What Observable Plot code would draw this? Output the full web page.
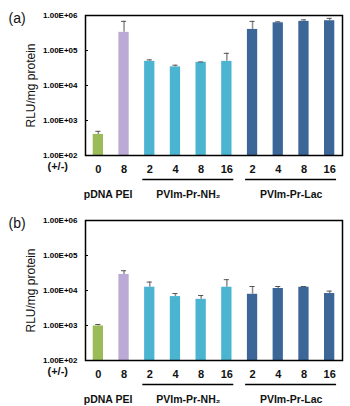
<!DOCTYPE html>
<html>
<head>
<meta charset="utf-8">
<script src="https://cdn.jsdelivr.net/npm/d3@7"></script>
<script src="https://cdn.jsdelivr.net/npm/@observablehq/plot@0.6"></script>
<style>
  body { margin: 0; background: #fff; font-family: "Liberation Sans", Arial, sans-serif; }
  #chart svg { display: block; }
</style>
</head>
<body>
<div id="chart"></div>
<script>
// ---- data ----
const ratios = ["0", "8", "2", "4", "8", "16", "2", "4", "8", "16"];
const groupOf = ["pDNA", "PEI", "NH2", "NH2", "NH2", "NH2", "Lac", "Lac", "Lac", "Lac"];
const valuesA = [400, 3.3e5, 4.9e4, 3.4e4, 4.6e4, 4.9e4, 4.0e5, 6.2e5, 6.8e5, 7.1e5];
const errorsA = [90, 3.5e5, 5e3, 4e3, 1e3, 3.4e4, 2.8e5, 4e4, 7e4, 1.2e5];
const valuesB = [970, 2.87e4, 1.24e4, 6.7e3, 5.6e3, 1.24e4, 7.8e3, 1.14e4, 1.24e4, 8.2e3];
const errorsB = [100, 8e3, 5e3, 1.5e3, 1.6e3, 8e3, 5.2e3, 1.6e3, 600, 1.4e3];
const yTicks = [1e2, 1e3, 1e4, 1e5, 1e6];
const groups = [
  {label: "pDNA", start: 0, end: 0, line: false},
  {label: "PEI", start: 1, end: 1, line: false},
  {label: "PVIm-Pr-NH\u2082", start: 2, end: 5, line: true},
  {label: "PVIm-Pr-Lac", start: 6, end: 9, line: true}
];
const colors = {pDNA: "#9bbb59", PEI: "#bcaad6", NH2: "#4bb4d0", Lac: "#3d6698"};
const yLabel = "RLU/mg protein";
const xLabel = "(+/-)";

function fmt(v) {
  const e = Math.round(Math.log10(v));
  return (v / 10 ** e).toFixed(2) + "E+" + String(e).padStart(2, "0");
}

function panel(tag, values, errors, marginTop) {
  const rows = values.map((v, i) => ({i, v, e: errors[i], g: groupOf[i], r: ratios[i]}));
  return Plot.plot({
    width: 350,
    height: marginTop + 140 + 46,
    marginLeft: 85,
    marginRight: 8,
    marginTop,
    marginBottom: 46,
    style: {fontFamily: "'Liberation Sans', Arial, sans-serif", overflow: "visible"},
    x: {type: "linear", domain: [-0.5, 9.5], axis: null},
    y: {type: "log", domain: [1e2, 1e6], axis: null},
    marks: [
      Plot.axisY({ticks: yTicks, tickFormat: fmt, tickSize: -3, tickPadding: 11,
        fontSize: 8, fontWeight: "bold", label: null, stroke: "black"}),
      Plot.rectY(rows, {x1: d => d.i - 0.2, x2: d => d.i + 0.2, y1: 100, y2: "v",
        fill: d => colors[d.g]}),
      Plot.ruleX(rows, {x: "i", y1: "v", y2: d => d.v + d.e, stroke: "#8c8c8c", strokeWidth: 1.5}),
      Plot.ruleY(rows, {y: d => d.v + d.e, x1: d => d.i - 0.1, x2: d => d.i + 0.1,
        stroke: "#555", strokeWidth: 1}),
      Plot.frame({stroke: "black", strokeWidth: 1.5}),
      Plot.text(rows, {x: "i", text: "r", frameAnchor: "bottom", lineAnchor: "middle", dy: 14,
        fontSize: 11, fontWeight: "bold", fill: "#111"}),
      Plot.text([xLabel], {text: d => d, frameAnchor: "bottom-left", lineAnchor: "middle",
        dx: -38, dy: 11, textAnchor: "start", fontSize: 11, fontWeight: "bold", fill: "#111"}),
      Plot.ruleY(groups.filter(d => d.line), {y: () => 100, x1: d => d.start - 0.27,
        x2: d => d.end + 0.27, dy: 24, stroke: "black", strokeWidth: 1.5}),
      Plot.text(groups, {x: d => (d.start + d.end) / 2, text: "label", frameAnchor: "bottom",
        lineAnchor: "middle", dy: 39, fontSize: 10.5, fontWeight: "bold", fill: "#111"}),
      Plot.text([yLabel], {text: d => d, frameAnchor: "left", rotate: -90, dx: -54,
        textAnchor: "middle", lineAnchor: "middle", fontSize: 12, fill: "#111"}),
      Plot.text([tag], {text: d => d, frameAnchor: "top-left", lineAnchor: "middle", dx: -77, dy: 3,
        textAnchor: "start", fontSize: 14, fill: "#111"})
    ]
  });
}

const root = document.getElementById("chart");
root.append(panel("(a)", valuesA, errorsA, 15));
root.append(panel("(b)", valuesB, errorsB, 19));
</script>
</body>
</html>
